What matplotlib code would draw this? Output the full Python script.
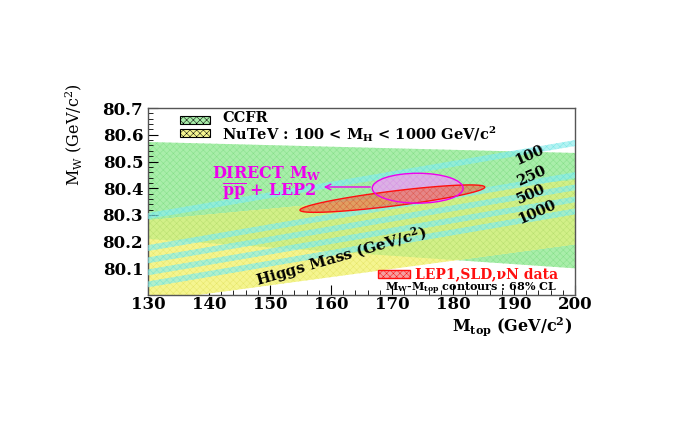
import numpy as np
import matplotlib
matplotlib.use("Agg")
import matplotlib.pyplot as plt
from matplotlib.patches import Ellipse, Polygon, Rectangle

plt.rcParams['font.family'] = ['DejaVu Serif']
plt.rcParams['mathtext.fontset'] = 'dejavuserif'
plt.rcParams['hatch.linewidth'] = 0.35

# band edges at M_top = 130 and 200
mtop_ends = [130, 200]
ccfr_top = [80.573, 80.532]
ccfr_bottom = [80.21, 80.10]
nutev_top = [80.28, 80.43]
nutev_bottom = [79.975, 80.19]

# Higgs mass lines (value of M_W at M_top = 130 and 200)
higgs_left = [80.296, 80.176, 80.130, 80.085, 80.040]
higgs_right = [80.569, 80.449, 80.403, 80.358, 80.313]
higgs_labels = ['100', '250', '500', '1000']
higgs_label_pos = [(192.6, 80.524), (192.9, 80.446), (192.8, 80.378), (193.8, 80.312)]
stripe_halfwidth = 0.011

# contours
direct_center = (174.2, 80.40)
direct_size = (14.9, 0.112)
lep_center = (170.05, 80.361)
lep_major = (15.15, 0.043)
lep_minor = 0.028

xticks = [130, 140, 150, 160, 170, 180, 190, 200]
yticks = [80.1, 80.2, 80.3, 80.4, 80.5, 80.6, 80.7]

fig = plt.figure(figsize=(6.92, 4.43), dpi=100)
ax = fig.add_axes([0.214, 0.334, 0.617, 0.422])
ax.set_xlim(130, 200)
ax.set_ylim(80.0, 80.7)

# bands: green, yellow and their overlap
xg = np.linspace(mtop_ends[0], mtop_ends[1], 50)
g_top = np.interp(xg, mtop_ends, ccfr_top)
g_bot = np.interp(xg, mtop_ends, ccfr_bottom)
y_top = np.interp(xg, mtop_ends, nutev_top)
y_bot = np.interp(xg, mtop_ends, nutev_bottom)
ax.fill_between(xg, g_bot, g_top, facecolor='#a9eeaa', edgecolor='#86e08a', hatch='xxxxx', lw=0, zorder=1)
ax.fill_between(xg, y_bot, y_top, facecolor='#f5f590', edgecolor='#e6e66a', hatch='xxxxx', lw=0, zorder=2)
o_bot = np.maximum(g_bot, y_bot)
o_top = np.minimum(g_top, y_top)
ax.fill_between(xg, o_bot, o_top, where=o_top > o_bot, facecolor='#d2f088', edgecolor='#b8e070',
                hatch='xxxxx', lw=0, zorder=2.5)

for lo, hi in zip(higgs_left, higgs_right):
    yl = np.array([lo, hi])
    ax.fill_between(mtop_ends, yl - stripe_halfwidth, yl + stripe_halfwidth, facecolor='#8aeeee',
                    edgecolor='#5ee0e0', hatch='xxxxx', lw=0, alpha=0.65, zorder=3)

for lab, (x, y) in zip(higgs_labels, higgs_label_pos):
    ax.text(x, y, lab, fontsize=10.5, fontweight='bold', rotation=24, ha='center', va='center', zorder=6)

# DIRECT M_W ellipse and LEP1/SLD contour
ax.add_patch(Ellipse(direct_center, direct_size[0], direct_size[1], facecolor='#e6a6f0',
                     edgecolor='#d890e8', hatch='xxxxx', lw=0, alpha=0.85, zorder=4))
t = np.linspace(0, 2 * np.pi, 200)
lx = lep_center[0] + lep_major[0] * np.cos(t)
ly = lep_center[1] + lep_major[1] * np.cos(t) + lep_minor * np.sin(t)
ax.add_patch(Polygon(np.column_stack([lx, ly]), closed=True, facecolor='#ec6a48',
                     edgecolor='#dd4a30', hatch='xxxxx', lw=0, alpha=0.6, zorder=4))
ax.add_patch(Polygon(np.column_stack([lx, ly]), closed=True, fill=False, edgecolor='#ff1010', lw=1, zorder=5))
ax.add_patch(Ellipse(direct_center, direct_size[0], direct_size[1], fill=False,
                     edgecolor='#ee00ee', lw=1, zorder=5))

ax.text(0.279, 0.65, r'DIRECT M$_\mathbf{W}$', transform=ax.transAxes, color='#ee00ee',
        fontsize=11.5, fontweight='bold', ha='center', va='center', zorder=6)
ax.text(0.283, 0.55, r'$\overline{\mathbf{pp}}$ + LEP2', transform=ax.transAxes, color='#ee00ee',
        fontsize=11.5, fontweight='bold', ha='center', va='center', zorder=6)
ax.annotate('', xy=(0.405, 0.578), xytext=(0.527, 0.578), xycoords='axes fraction',
            arrowprops=dict(arrowstyle='->', color='#ee00ee', lw=1), zorder=6)

ax.text(0.452, 0.205, r'Higgs Mass (GeV/c$^\mathbf{2}$)', transform=ax.transAxes, fontsize=11,
        fontweight='bold', rotation=16, ha='center', va='center', zorder=6)

# legend (top)
ax.add_patch(Rectangle((0.075, 0.914), 0.07, 0.043, transform=ax.transAxes, facecolor='#a9eeaa',
                       edgecolor='black', hatch='xxxxx', lw=0.8, zorder=6))
ax.add_patch(Rectangle((0.075, 0.845), 0.07, 0.043, transform=ax.transAxes, facecolor='#f5f590',
                       edgecolor='black', hatch='xxxxx', lw=0.8, zorder=6))
ax.text(0.173, 0.945, 'CCFR', transform=ax.transAxes, fontsize=10.5, fontweight='bold',
        ha='left', va='center', zorder=6)
ax.text(0.173, 0.858, r'NuTeV : 100 < M$_\mathbf{H}$ < 1000 GeV/c$^\mathbf{2}$', transform=ax.transAxes,
        fontsize=10.5, fontweight='bold', ha='left', va='center', zorder=6)

# legend (bottom)
ax.add_patch(Rectangle((0.539, 0.09), 0.075, 0.045, transform=ax.transAxes, facecolor='#f4a0a0',
                       edgecolor='#ff1010', hatch='xxxxx', lw=1, zorder=6))
ax.text(0.625, 0.113, 'LEP1,SLD,νN data', transform=ax.transAxes, color='#ff1010', fontsize=10,
        fontweight='bold', ha='left', va='center', zorder=6)
ax.text(0.555, 0.032, r'M$_\mathbf{W}$-M$_\mathbf{top}$ contours : 68% CL', transform=ax.transAxes,
        fontsize=8, fontweight='bold', ha='left', va='center', zorder=6)

ax.set_xticks(xticks)
ax.set_yticks(yticks)
ax.set_xticks(np.arange(130, 201, 2), minor=True)
ax.set_yticks(np.arange(80.0, 80.701, 0.02), minor=True)
ax.tick_params(which='both', direction='in', top=False, right=False, labelsize=12)
ax.tick_params(axis='x', which='major', pad=1)
ax.tick_params(which='major', length=7)
ax.tick_params(which='minor', length=3.5)
for lab in ax.get_xticklabels() + ax.get_yticklabels():
    lab.set_fontweight('bold')
for sp in ax.spines.values():
    sp.set_color('#555555')
    sp.set_linewidth(1)

fig.text(0.108, 0.695, r'M$_\mathrm{W}$ (GeV/c$^2$)', rotation=90, fontsize=11.5, ha='center', va='center')
fig.text(0.74, 0.262, r'M$_\mathbf{top}$ (GeV/c$^\mathbf{2}$)', fontsize=11.5, fontweight='bold',
         ha='center', va='center')

fig.savefig('out.png', dpi=100)
